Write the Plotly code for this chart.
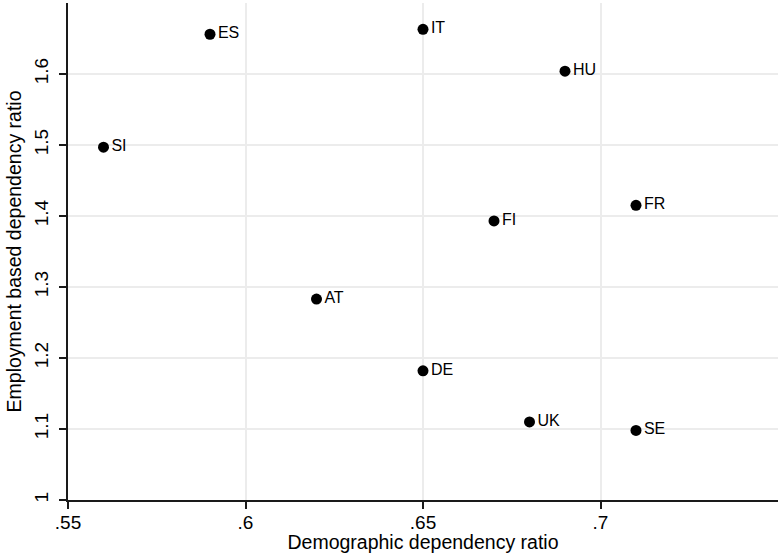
import plotly.graph_objects as go

countries = ["ES", "IT", "HU", "SI", "FR", "FI", "AT", "DE", "UK", "SE"]
demographic = [0.59, 0.65, 0.69, 0.56, 0.71, 0.67, 0.62, 0.65, 0.68, 0.71]
employment = [1.656, 1.663, 1.604, 1.497, 1.415, 1.393, 1.283, 1.182, 1.110, 1.098]

x_ticks = [0.55, 0.6, 0.65, 0.7]
x_ticktext = [".55", ".6", ".65", ".7"]
y_ticks = [1.0, 1.1, 1.2, 1.3, 1.4, 1.5, 1.6]
y_ticktext = ["1", "1.1", "1.2", "1.3", "1.4", "1.5", "1.6"]

FONT = "Liberation Sans, Arial, Helvetica, sans-serif"

fig = go.Figure(
    go.Scatter(
        x=demographic,
        y=employment,
        mode="markers+text",
        text=countries,
        textposition="middle right",
        textfont=dict(family=FONT, size=16, color="#000000"),
        marker=dict(color="#000000", size=11, line=dict(width=0)),
        cliponaxis=False,
        hoverinfo="skip",
    )
)

axis_common = dict(
    showline=True,
    linecolor="#1a1a1a",
    linewidth=1.5,
    ticks="outside",
    ticklen=7,
    tickwidth=1.5,
    tickcolor="#1a1a1a",
    showgrid=True,
    gridcolor="#ececec",
    gridwidth=1.5,
    zeroline=False,
    automargin=False,
    tickfont=dict(family=FONT, size=19, color="#000000"),
    title_font=dict(family=FONT, size=19.5, color="#000000"),
)

fig.update_xaxes(
    range=[0.55, 0.75],
    tickvals=x_ticks,
    ticktext=x_ticktext,
    ticklabelstandoff=-3,
    title_text="Demographic dependency ratio",
    title_standoff=2,
    **axis_common,
)
fig.update_yaxes(
    range=[1.0, 1.7],
    tickvals=y_ticks,
    ticktext=y_ticktext,
    tickangle=-90,
    ticklabelstandoff=4,
    title_text="Employment based dependency ratio",
    title_standoff=4,
    **axis_common,
)

fig.update_layout(
    width=781,
    height=553,
    margin=dict(l=68, r=3, t=3, b=53, autoexpand=False),
    paper_bgcolor="#ffffff",
    plot_bgcolor="#ffffff",
    showlegend=False,
    font=dict(family=FONT, color="#000000"),
)

fig.write_html(
    "out.html",
    config={"displayModeBar": False},
    post_script="document.body.style.margin='0';document.body.style.overflow='hidden';",
)
